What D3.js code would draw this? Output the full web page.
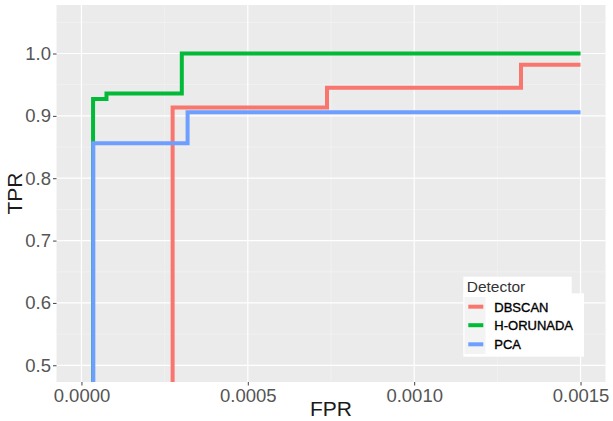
<!DOCTYPE html>
<html>
<head>
<meta charset="utf-8">
<script src="https://cdn.jsdelivr.net/npm/d3@7"></script>
<style>
  html, body { margin: 0; padding: 0; background: #ffffff; }
  svg { display: block; }
</style>
</head>
<body>
<svg id="chart" width="613" height="421"></svg>
<script>
// ---------- data ----------
const detectors = ["DBSCAN", "H-ORUNADA", "PCA"];
const colors = ["#F8766D", "#00BA38", "#6E9FFF"];

const fprDBSCAN = [0, 0.000274, 0.000738, 0.001321, 0.0015];
const tprDBSCAN = [0, 0.9135, 0.9452, 0.982, 0.982];

const fprHORUNADA = [0, 0.0000349, 0.0000752, 0.0003016, 0.0015];
const tprHORUNADA = [0, 0.927, 0.936, 1.0, 1.0];

const fprPCA = [0, 0.0000355, 0.000319, 0.0015];
const tprPCA = [0, 0.856, 0.906, 0.906];

const xTicks = [0, 0.0005, 0.001, 0.0015];
const xTickLabels = ["0.0000", "0.0005", "0.0010", "0.0015"];
const xMinor = [0.00025, 0.00075, 0.00125];
const yTicks = [0.5, 0.6, 0.7, 0.8, 0.9, 1.0];
const yTickLabels = ["0.5", "0.6", "0.7", "0.8", "0.9", "1.0"];
const yMinor = [0.55, 0.65, 0.75, 0.85, 0.95, 1.05];

const xTitle = "FPR", yTitle = "TPR", legendTitle = "Detector";

// ---------- layout ----------
const svg = d3.select("#chart");
const P = { left: 56.5, right: 605.5, top: 5, bottom: 382 };

const x = d3.scaleLinear().domain([-0.000075, 0.001575]).range([P.left, P.right]);
const y = d3.scaleLinear().domain([0.4732, 1.0778]).range([P.bottom, P.top]);

// panel
svg.append("rect")
  .attr("x", P.left).attr("y", P.top)
  .attr("width", P.right - P.left).attr("height", P.bottom - P.top)
  .attr("fill", "#EBEBEB");

const grid = svg.append("g");
grid.selectAll(".xminor").data(xMinor).join("line")
  .attr("x1", d => x(d)).attr("x2", d => x(d))
  .attr("y1", P.top).attr("y2", P.bottom)
  .attr("stroke", "#F5F5F5").attr("stroke-width", 0.6);
grid.selectAll(".yminor").data(yMinor.filter(v => y(v) > P.top)).join("line")
  .attr("y1", d => y(d)).attr("y2", d => y(d))
  .attr("x1", P.left).attr("x2", P.right)
  .attr("stroke", "#F5F5F5").attr("stroke-width", 0.6);
grid.selectAll(".xmajor").data(xTicks).join("line")
  .attr("x1", d => x(d)).attr("x2", d => x(d))
  .attr("y1", P.top).attr("y2", P.bottom)
  .attr("stroke", "#FFFFFF").attr("stroke-width", 1.2);
grid.selectAll(".ymajor").data(yTicks).join("line")
  .attr("y1", d => y(d)).attr("y2", d => y(d))
  .attr("x1", P.left).attr("x2", P.right)
  .attr("stroke", "#FFFFFF").attr("stroke-width", 1.2);

// clip
svg.append("clipPath").attr("id", "clip")
  .append("rect").attr("x", P.left).attr("y", P.top)
  .attr("width", P.right - P.left).attr("height", P.bottom - P.top);

const series = [
  { name: detectors[0], fpr: fprDBSCAN, tpr: tprDBSCAN, color: colors[0] },
  { name: detectors[1], fpr: fprHORUNADA, tpr: tprHORUNADA, color: colors[1] },
  { name: detectors[2], fpr: fprPCA, tpr: tprPCA, color: colors[2] }
];

const line = d3.line()
  .x(d => x(d[0])).y(d => y(d[1]))
  .curve(d3.curveStepAfter);

const lines = svg.append("g").attr("clip-path", "url(#clip)");
series.forEach(s => {
  lines.append("path")
    .datum(s.fpr.map((f, i) => [f, s.tpr[i]]))
    .attr("d", line)
    .attr("fill", "none")
    .attr("stroke", s.color)
    .attr("stroke-width", 4)
    .attr("stroke-linejoin", "miter")
    .attr("stroke-linecap", "butt");
});

// axes
const xAxis = d3.axisBottom(x).tickValues(xTicks)
  .tickFormat((d, i) => xTickLabels[i]).tickSize(3.5).tickPadding(3);
const gx = svg.append("g").attr("transform", `translate(0,${P.bottom})`).call(xAxis);
gx.select(".domain").remove();
gx.selectAll(".tick line").attr("stroke", "#444444").attr("stroke-width", 1);
gx.selectAll(".tick text")
  .attr("fill", "#555555")
  .style("font-family", "'Liberation Sans', Arial, sans-serif")
  .style("font-size", "18.5px");

const yAxis = d3.axisLeft(y).tickValues(yTicks)
  .tickFormat((d, i) => yTickLabels[i]).tickSize(3.5).tickPadding(2);
const gy = svg.append("g").attr("transform", `translate(${P.left},0)`).call(yAxis);
gy.select(".domain").remove();
gy.selectAll(".tick line").attr("stroke", "#444444").attr("stroke-width", 1);
gy.selectAll(".tick text")
  .attr("fill", "#555555")
  .style("font-family", "'Liberation Sans', Arial, sans-serif")
  .style("font-size", "18.5px");

// axis titles
svg.append("text")
  .attr("x", (P.left + P.right) / 2).attr("y", 416)
  .attr("text-anchor", "middle")
  .attr("fill", "#1A1A1A")
  .style("font-family", "'Liberation Sans', Arial, sans-serif")
  .style("font-size", "21px")
  .text(xTitle);

svg.append("text")
  .attr("transform", `translate(22,${(P.top + P.bottom) / 2}) rotate(-90)`)
  .attr("text-anchor", "middle")
  .attr("fill", "#1A1A1A")
  .style("font-family", "'Liberation Sans', Arial, sans-serif")
  .style("font-size", "21px")
  .text(yTitle);

// legend
const lg = svg.append("g");
lg.append("rect").attr("x", 463.3).attr("y", 276.7).attr("width", 108.4).attr("height", 20).attr("fill", "#FFFFFF");
lg.append("rect").attr("x", 463.3).attr("y", 293.3).attr("width", 120.7).attr("height", 63.4).attr("fill", "#FFFFFF");
lg.append("rect").attr("x", 464.5).attr("y", 297).attr("width", 21).attr("height", 57).attr("fill", "#F3F3F3");
lg.append("text")
  .attr("x", 466.7).attr("y", 291.5)
  .attr("fill", "#333333")
  .style("font-family", "'Liberation Sans', Arial, sans-serif")
  .style("font-size", "15.5px")
  .text(legendTitle);

const keyY = [306.7, 325.2, 344.3];
series.forEach((s, i) => {
  lg.append("line")
    .attr("x1", 468.3).attr("x2", 483.3)
    .attr("y1", keyY[i]).attr("y2", keyY[i])
    .attr("stroke", s.color).attr("stroke-width", 4);
  lg.append("text")
    .attr("x", 494.3).attr("y", keyY[i] + 5)
    .attr("fill", "#000")
    .attr("stroke", "#000").attr("stroke-width", 0.35)
    .style("font-family", "'Liberation Sans', Arial, sans-serif")
    .style("font-size", "13px")
    .text(s.name);
});
</script>
</body>
</html>
